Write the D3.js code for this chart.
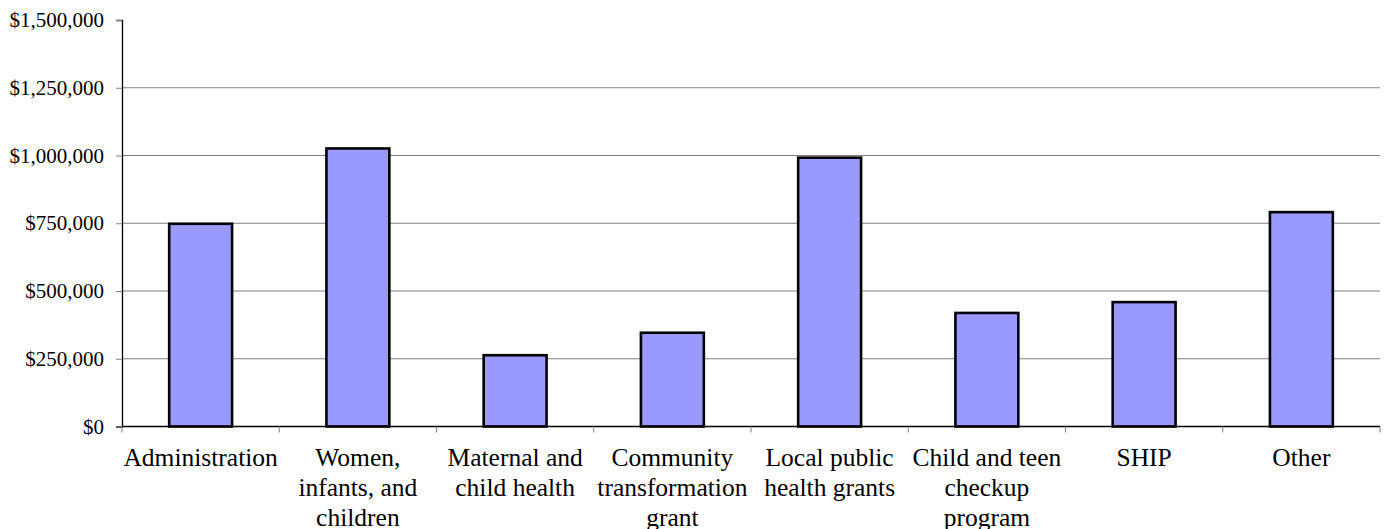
<!DOCTYPE html>
<html>
<head>
<meta charset="utf-8">
<script src="https://cdn.jsdelivr.net/npm/d3@7"></script>
<style>
  body { margin: 0; background: #fff; }
  text { font-family: "Liberation Serif", "Times New Roman", serif; fill: #000; }
</style>
</head>
<body>
<script>
const width  = 1388
const height = 529

// data
const categories = [
  ["Administration"],
  ["Women,", "infants, and", "children"],
  ["Maternal and", "child health"],
  ["Community", "transformation", "grant"],
  ["Local public", "health grants"],
  ["Child and teen", "checkup", "program"],
  ["SHIP"],
  ["Other"]
]
const amounts = [748000, 1026000, 263000, 346000, 992000, 419000, 459000, 791000]
const yTicks = [0, 250000, 500000, 750000, 1000000, 1250000, 1500000]

const margin = {top: 20, right: 8, bottom: 102.5, left: 122}

const svg = d3.select("body").append("svg")
  .attr("width", width)
  .attr("height", height)

const x = d3.scaleBand()
  .domain(d3.range(categories.length))
  .range([margin.left, width - margin.right])
  .paddingInner(0.6)
  .paddingOuter(0.3)

const y = d3.scaleLinear()
  .domain([0, 1500000])
  .range([height - margin.bottom, margin.top])

const fmt = d => "$" + d3.format(",")(d)

//gridlines
svg.append("g")
  .selectAll("line")
  .data(yTicks.filter(d => d > 0 && d < 1500000))
  .join("line")
    .attr("x1", margin.left)
    .attr("x2", width - margin.right)
    .attr("y1", d => y(d))
    .attr("y2", d => y(d))
    .attr("stroke", "#808080")
    .attr("stroke-width", 1)

//bars
svg.append("g")
  .selectAll("rect")
  .data(amounts)
  .join("rect")
    .attr("x", (d, i) => x(i))
    .attr("y", d => y(d))
    .attr("width", x.bandwidth())
    .attr("height", d => y(0) - y(d))
    .attr("fill", "#9999ff")
    .attr("stroke", "#000")
    .attr("stroke-width", 2.6)

//y axis
const yAxis = svg.append("g")
  .attr("transform", `translate(${margin.left},0)`)
  .call(d3.axisLeft(y).tickValues(yTicks).tickFormat(fmt).tickSize(6).tickPadding(12))
yAxis.select(".domain").attr("stroke", "#000").attr("stroke-width", 1.3)
yAxis.selectAll(".tick line").attr("stroke", "#808080")
yAxis.selectAll(".tick text")
  .attr("font-size", 21)
  .attr("fill", "#000")

//x axis
const step = x.step()
const xAxis = svg.append("g")
  .attr("transform", `translate(0,${y(0)})`)
xAxis.append("line")
  .attr("x1", margin.left)
  .attr("x2", width - margin.right)
  .attr("stroke", "#000")
  .attr("stroke-width", 1.3)
xAxis.selectAll("line.tk")
  .data(d3.range(categories.length + 1))
  .join("line")
    .attr("class", "tk")
    .attr("x1", i => margin.left + i * step)
    .attr("x2", i => margin.left + i * step)
    .attr("y1", 0)
    .attr("y2", 6)
    .attr("stroke", "#808080")

xAxis.selectAll("text")
  .data(categories)
  .join("text")
    .attr("text-anchor", "middle")
    .attr("font-size", 25.5)
    .attr("x", (d, i) => x(i) + x.bandwidth() / 2)
    .attr("y", 39)
  .selectAll("tspan")
  .data(d => d)
  .join("tspan")
    .attr("x", function() { return d3.select(this.parentNode).attr("x") })
    .attr("dy", (d, i) => i === 0 ? 0 : 30.2)
    .text(d => d)
</script>
</body>
</html>
